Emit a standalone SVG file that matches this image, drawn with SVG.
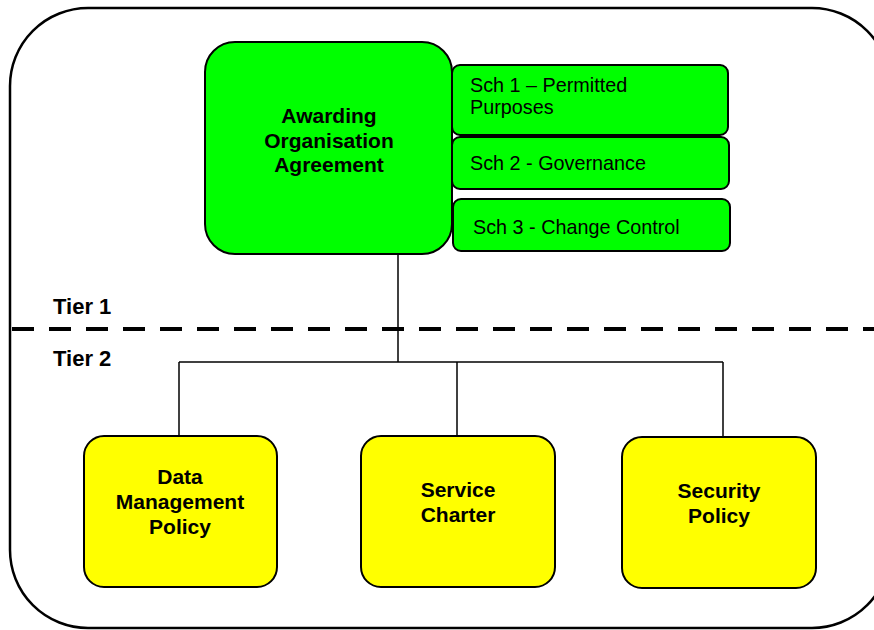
<svg xmlns="http://www.w3.org/2000/svg" width="874" height="630" viewBox="0 0 874 630">
<style>
.b{font-family:"Liberation Sans",Arial,sans-serif;font-weight:bold;font-size:21px;fill:#000;text-anchor:middle}
.r{font-family:"Liberation Sans",Arial,sans-serif;font-size:19.8px;fill:#000}
.t{font-family:"Liberation Sans",Arial,sans-serif;font-weight:bold;font-size:22px;fill:#000}
.g{fill:#00ff00;stroke:#000;stroke-width:2}
.y{fill:#ffff00;stroke:#000;stroke-width:2}
.c{stroke:#000;stroke-width:1.5;fill:none}
</style>
<rect width="874" height="630" fill="#fff"/>
<rect id="frame" x="10" y="8" width="880" height="620" rx="78" ry="78" fill="none" stroke="#000" stroke-width="2.5"/>
<g id="tierline">
<line x1="12" y1="329" x2="874" y2="329" stroke="#000" stroke-width="4" stroke-dasharray="22,15"/>
<text class="t" x="53" y="314">Tier 1</text>
<text class="t" x="53" y="366">Tier 2</text>
</g>
<g id="connectors">
<line class="c" x1="398" y1="254" x2="398" y2="362"/>
<line class="c" x1="179" y1="362" x2="723" y2="362"/>
<line class="c" x1="179" y1="362" x2="179" y2="436"/>
<line class="c" x1="457" y1="362" x2="457" y2="436"/>
<line class="c" x1="723" y1="362" x2="723" y2="437"/>
</g>
<g id="aoa">
<rect class="g" x="205" y="42" width="247" height="212" rx="30"/>
<text class="b" x="329" y="123">Awarding</text>
<text class="b" x="329" y="148">Organisation</text>
<text class="b" x="329" y="172">Agreement</text>
</g>
<g id="sch1">
<rect class="g" x="452" y="65" width="276" height="70" rx="8"/>
<text class="r" x="470" y="92">Sch 1 – Permitted</text>
<text class="r" x="470" y="114">Purposes</text>
</g>
<g id="sch2">
<rect class="g" x="452" y="137" width="277" height="52" rx="8"/>
<text class="r" x="470" y="170">Sch 2 - Governance</text>
</g>
<g id="sch3">
<rect class="g" x="453" y="199" width="277" height="52" rx="8"/>
<text class="r" x="473" y="234">Sch 3 - Change Control</text>
</g>
<g id="dmp">
<rect class="y" x="84" y="436" width="193" height="151" rx="20"/>
<text class="b" x="180" y="484">Data</text>
<text class="b" x="180" y="509">Management</text>
<text class="b" x="180" y="534">Policy</text>
</g>
<g id="sc">
<rect class="y" x="361" y="436" width="194" height="151" rx="20"/>
<text class="b" x="458" y="497">Service</text>
<text class="b" x="458" y="522">Charter</text>
</g>
<g id="sp">
<rect class="y" x="622" y="437" width="194" height="151" rx="20"/>
<text class="b" x="719" y="498">Security</text>
<text class="b" x="719" y="523">Policy</text>
</g>
</svg>
